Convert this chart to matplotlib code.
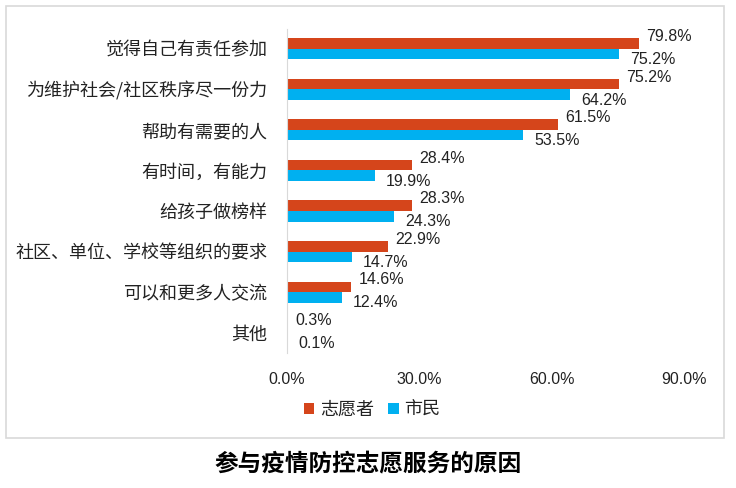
import numpy as np
import matplotlib.pyplot as plt
from matplotlib.patches import Rectangle

plt.rcParams['font.family'] = ['Liberation Sans', 'Noto Sans CJK SC',
                               'DejaVu Sans']

categories = ['觉得自己有责任参加', '为维护社会/社区秩序尽一份力', '帮助有需要的人',
              '有时间，有能力', '给孩子做榜样', '社区、单位、学校等组织的要求',
              '可以和更多人交流', '其他']
volunteers = [79.8, 75.2, 61.5, 28.4, 28.3, 22.9, 14.6, 0.3]
citizens = [75.2, 64.2, 53.5, 19.9, 24.3, 14.7, 12.4, 0.1]
xticks = [0, 30, 60, 90]

red = '#D5451B'
blue = '#00B0F0'
txt = '#222222'
cjk = ['Noto Sans CJK SC', 'DejaVu Sans']

W, H = 736, 488
fig = plt.figure(figsize=(W / 100, H / 100), dpi=100)

# outer frame
fig.patches.append(Rectangle((6 / W, 1 - 438 / H), 718 / W, 432 / H,
                             transform=fig.transFigure, fill=False,
                             edgecolor='#D9D9D9', linewidth=1.2))

ax = fig.add_axes([287 / W, 1 - 353 / H, (684 - 287) / W, (353 - 28.5) / H])
y = np.arange(len(categories))
h = 0.26
ax.barh(y - h / 2, volunteers, height=h, color=red, label='志愿者')
ax.barh(y + h / 2, citizens, height=h, color=blue, label='市民')
ax.set_ylim(len(categories) - 0.5, -0.5)
ax.set_xlim(0, 90)

for i, (v, c) in enumerate(zip(volunteers, citizens)):
    ax.annotate('%.1f%%' % v, (v, i - h / 2), xytext=(5, 5),
                textcoords='offset points', ha='left', va='center',
                fontsize=11.5, color=txt)
    ax.annotate('%.1f%%' % c, (c, i + h / 2), xytext=(8, -4),
                textcoords='offset points', ha='left', va='center',
                fontsize=11.5, color=txt)

ax.set_yticks(y)
ax.set_yticklabels(categories, family=cjk, fontsize=13, color=txt)
ax.set_xticks(xticks)
ax.set_xticklabels(['%.1f%%' % t for t in xticks], fontsize=11.5, color=txt)
ax.tick_params(axis='both', length=0)
ax.tick_params(axis='x', pad=14)
ax.tick_params(axis='y', pad=14)
for s in ['top', 'right', 'bottom']:
    ax.spines[s].set_visible(False)
ax.spines['left'].set_color('#D9D9D9')

leg = fig.legend(loc='center', bbox_to_anchor=(372 / W, 1 - 410 / H),
                 ncol=2, frameon=False, prop={'family': cjk, 'size': 13},
                 handlelength=0.6, handleheight=0.6, handletextpad=0.3,
                 columnspacing=0.8)
for t in leg.get_texts():
    t.set_color(txt)

fig.text(0.5, 1 - 464 / H, '参与疫情防控志愿服务的原因', ha='center',
         va='center', family=cjk, fontsize=17, fontweight='bold', color='black')

fig.savefig('out.png', dpi=100)
